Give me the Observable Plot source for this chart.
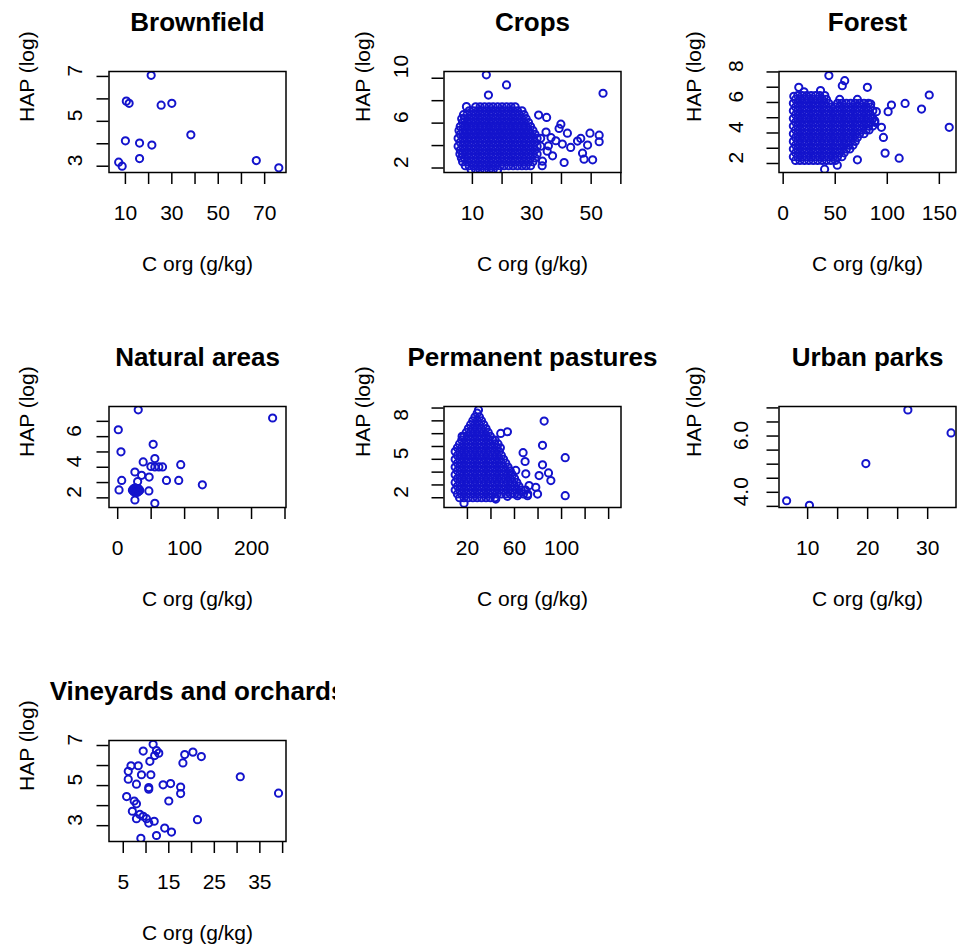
<!DOCTYPE html>
<html>
<head>
<meta charset="utf-8">
<script src="https://cdn.jsdelivr.net/npm/d3@7"></script>
<script src="https://cdn.jsdelivr.net/npm/@observablehq/plot@0.6"></script>
<style>
html, body { margin: 0; padding: 0; background: #fff; }
#chart { position: relative; width: 957px; height: 945px; overflow: hidden; background: #fff; }
#chart > div { position: absolute; }
</style>
</head>
<body>
<div id="chart"></div>
<script>
// ---------- text ----------
const titles = ["Brownfield", "Crops", "Forest", "Natural areas", "Permanent pastures", "Urban parks", "Vineyards and orchards"];
const xTitle = "C org (g/kg)";
const yTitle = "HAP (log)";

// ---------- data: [C org (g/kg), HAP (log)] ----------
const brownfield = [[21.1,7.05],[10.4,5.9],[11.6,5.8],[25.4,5.72],[30.0,5.8],[38.2,4.4],[10.0,4.13],[16.1,4.03],[21.4,3.94],[16.1,3.34],[7.1,3.18],[8.6,3.0],[66.4,3.25],[76.1,2.93]];

const cropsOut = [[14.7,10.3],[21.5,9.4],[54.0,8.66],[15.4,8.5],[8.0,7.47],[32.3,6.72],[35.0,6.51],[39.8,5.91],[39.2,5.53],[42.0,5.1],[49.6,5.1],[52.7,4.93],[46.5,4.64],[52.7,4.34],[40.3,4.13],[43.1,3.83],[48.8,4.04],[47.1,3.32],[50.5,2.73],[47.6,2.79],[40.9,2.49],[33.6,2.61],[37.0,3.09],[35.6,3.98],[38.1,4.43],[45.4,4.40],[34.8,5.2],[36.5,4.7],[35.2,3.5],[33.5,2.2]];
// dense core, one row per HAP level: [HAP, [C org values]]
const cropsCore = [
  [7.45, [11.1,12.6,14.1,15.6,17.0,18.5,20.0,21.5,23.0,24.4]],
  [7.1, [8.9,10.4,11.9,13.3,14.8,16.3,17.8,19.3,20.7,22.2,23.7,25.2,26.7]],
  [6.75, [7.0,8.2,9.6,11.1,12.6,14.1,15.6,17.0,18.5,20.0,21.5,23.0,24.4,25.9,27.4]],
  [6.4, [6.4,7.4,8.9,10.4,11.9,13.3,14.8,16.3,17.8,19.3,20.7,22.2,23.7,25.2,26.7,28.1]],
  [6.05, [6.7,8.2,9.6,11.1,12.6,14.1,15.6,17.0,18.5,20.0,21.5,23.0,24.4,25.9,27.4,28.9]],
  [5.7, [5.9,7.4,8.9,10.4,11.9,13.3,14.8,16.3,17.8,19.3,20.7,22.2,23.7,25.2,26.7,28.1,29.6]],
  [5.35, [5.5,6.7,8.2,9.6,11.1,12.6,14.1,15.6,17.0,18.5,20.0,21.5,23.0,24.4,25.9,27.4,28.9,30.4]],
  [5.0, [5.9,7.4,8.9,10.4,11.9,13.3,14.8,16.3,17.8,19.3,20.7,22.2,23.7,25.2,26.7,28.1,29.6,31.1]],
  [4.65, [5.2,6.7,8.2,9.6,11.1,12.6,14.1,15.6,17.0,18.5,20.0,21.5,23.0,24.4,25.9,27.4,28.9,30.4,31.8,33.0]],
  [4.3, [5.9,7.4,8.9,10.4,11.9,13.3,14.8,16.3,17.8,19.3,20.7,22.2,23.7,25.2,26.7,28.1,29.6,31.1]],
  [3.95, [5.2,6.7,8.2,9.6,11.1,12.6,14.1,15.6,17.0,18.5,20.0,21.5,23.0,24.4,25.9,27.4,28.9,30.4,31.8,33.0]],
  [3.6, [5.9,7.4,8.9,10.4,11.9,13.3,14.8,16.3,17.8,19.3,20.7,22.2,23.7,25.2,26.7,28.1,29.6,31.1]],
  [3.25, [5.8,6.7,8.2,9.6,11.1,12.6,14.1,15.6,17.0,18.5,20.0,21.5,23.0,24.4,25.9,27.4,28.9,30.4,31.8]],
  [2.9, [6.3,7.4,8.9,10.4,11.9,13.3,14.8,16.3,17.8,19.3,20.7,22.2,23.7,25.2,26.7,28.1,29.6,31.1]],
  [2.55, [6.7,8.2,9.6,11.1,12.6,14.1,15.6,17.0,18.5,20.0,21.5,23.0,24.4,25.9,27.4,28.9,30.4]],
  [2.2, [7.6,8.9,10.4,11.9,13.3,14.8,16.3,17.8,19.3,20.7,22.2,23.7,25.2,26.7,28.1,29.6]],
  [1.85, [9.6,11.1,12.6,14.1,15.6,17.0,18.5]]
];

const forestOut = [[43.9,7.76],[59.1,7.43],[56.8,7.1],[80.9,6.99],[140.3,6.49],[117.1,5.94],[104.0,5.83],[100.8,5.40],[132.9,5.57],[159.5,4.37],[94.4,4.37],[96.3,3.71],[97.9,2.68],[111.4,2.35],[71.3,2.24],[52.0,1.89],[39.8,1.63],[10.2,6.4],[15.0,6.99],[35.9,6.78],[84.1,5.9],[88.0,4.8],[20.0,6.7],[40.0,6.45],[89.5,5.4]];
const forestCore = [
  [6.45, [14.0,18.3,22.5,26.8,31.0,35.2]],
  [6.2, [11.9,16.1,20.4,24.6,28.9,33.1,37.4,41.6,54.3,71.3]],
  [5.95, [9.8,14.0,18.3,22.5,26.8,31.0,35.2,39.5,43.7,52.2,56.4,60.7,64.9,69.2,73.4,77.6,81.9]],
  [5.7, [11.9,16.1,20.4,24.6,28.9,33.1,37.4,41.6,45.8,50.1,54.3,58.6,62.8,67.0,71.3,75.5,79.8,84.0]],
  [5.45, [9.8,14.0,18.3,22.5,26.8,31.0,35.2,39.5,43.7,48.0,52.2,56.4,60.7,64.9,69.2,73.4,77.6,81.9,86.1]],
  [5.2, [11.9,16.1,20.4,24.6,28.9,33.1,37.4,41.6,45.8,50.1,54.3,58.6,62.8,67.0,71.3,75.5,79.8,84.0]],
  [4.95, [9.8,14.0,18.3,22.5,26.8,31.0,35.2,39.5,43.7,48.0,52.2,56.4,60.7,64.9,69.2,73.4,77.6,81.9,86.1]],
  [4.7, [11.9,16.1,20.4,24.6,28.9,33.1,37.4,41.6,45.8,50.1,54.3,58.6,62.8,67.0,71.3,75.5,79.8,84.0,88.0]],
  [4.45, [9.8,14.0,18.3,22.5,26.8,31.0,35.2,39.5,43.7,48.0,52.2,56.4,60.7,64.9,69.2,73.4,77.6,81.9,86.1]],
  [4.2, [11.9,16.1,20.4,24.6,28.9,33.1,37.4,41.6,45.8,50.1,54.3,58.6,62.8,67.0,71.3,75.5,79.8,82.5]],
  [3.95, [9.8,14.0,18.3,22.5,26.8,31.0,35.2,39.5,43.7,48.0,52.2,56.4,60.7,64.9,69.2,73.4,77.6]],
  [3.7, [11.9,16.1,20.4,24.6,28.9,33.1,37.4,41.6,45.8,50.1,54.3,58.6,62.8,67.0,71.3]],
  [3.45, [9.8,14.0,18.3,22.5,26.8,31.0,35.2,39.5,43.7,48.0,52.2,56.4,60.7,64.9,69.2]],
  [3.2, [11.9,16.1,20.4,24.6,28.9,33.1,37.4,41.6,45.8,50.1,54.3,58.6,62.8,67.0]],
  [2.95, [9.8,14.0,18.3,22.5,26.8,31.0,35.2,39.5,43.7,48.0,52.2,56.4,60.7,64.0]],
  [2.7, [11.9,16.1,20.4,24.6,28.9,33.1,37.4,41.6,45.8,50.1,54.3,58.6]],
  [2.45, [9.8,14.0,18.3,22.5,26.8,31.0,35.2,39.5,43.7,48.0,52.2,56.4]],
  [2.2, [11.9,16.1,20.4,24.6,28.9,33.1,37.4,41.6,45.8,50.1]]
];

const natural = [[30.7,7.75],[231.5,7.22],[0.9,6.45],[4.9,5.01],[53.0,5.5],[55.5,4.57],[38.1,4.35],[94.2,4.17],[49.6,4.05],[55.5,4.02],[61.5,4.02],[67.0,4.02],[25.7,3.69],[35.7,3.47],[47.0,3.36],[6.0,3.14],[72.9,3.14],[91.2,3.14],[126.5,2.85],[29.8,3.07],[2.0,2.52],[46.6,2.45],[25.7,1.86],[55.5,1.64],
  [22,2.5],[24,2.4],[24,2.6],[26,2.5],[27,2.38],[27,2.62],[29,2.5],[30,2.4],[31,2.6],[33,2.5],[25,2.5],[28,2.55],[23,2.55],[32,2.45],[26,2.65],[29,2.35]];

const pasturesOut = [[85.2,7.98],[83.8,6.09],[103.1,5.13],[103.1,2.16],[67.3,5.52],[69.0,4.83],[83.8,4.57],[80.9,3.73],[88.9,3.94],[90.9,3.34],[78.1,2.82],[79.6,2.29],[71.1,2.16],[62.6,2.16],[54.0,2.11],[44.1,1.9],[54.0,7.15],[48.3,7.02],[69.6,3.87],[61.1,4.13],[72.4,2.95],[17.1,1.58],[29.4,8.85]];
const pasturesCore = [
  [8.6, [28.3]],
  [8.3, [26.4,30.2]],
  [8.0, [24.6,28.3,32.0]],
  [7.7, [22.7,26.4,30.2,33.9]],
  [7.4, [20.8,24.6,28.3,32.0,35.8]],
  [7.1, [19.0,22.7,26.4,30.2,33.9,37.7]],
  [6.8, [15.5,17.1,20.8,24.6,28.3,32.0,35.8,39.5]],
  [6.5, [15.2,19.0,22.7,26.4,30.2,33.9,37.7,41.4,43.5]],
  [6.2, [13.3,17.1,20.8,24.6,28.3,32.0,35.8,39.5,43.3,46.0]],
  [5.9, [11.5,15.2,19.0,22.7,26.4,30.2,33.9,37.7,41.4,45.1,48.0]],
  [5.6, [9.6,13.3,17.1,20.8,24.6,28.3,32.0,35.8,39.5,43.3,47.0]],
  [5.3, [11.5,15.2,19.0,22.7,26.4,30.2,33.9,37.7,41.4,45.1,48.9]],
  [5.0, [9.6,13.3,17.1,20.8,24.6,28.3,32.0,35.8,39.5,43.3,47.0,50.7]],
  [4.7, [11.5,15.2,19.0,22.7,26.4,30.2,33.9,37.7,41.4,45.1,48.9,52.6]],
  [4.4, [9.6,13.3,17.1,20.8,24.6,28.3,32.0,35.8,39.5,43.3,47.0,50.7,54.5]],
  [4.1, [11.5,15.2,19.0,22.7,26.4,30.2,33.9,37.7,41.4,45.1,48.9,52.6,56.4]],
  [3.8, [9.6,13.3,17.1,20.8,24.6,28.3,32.0,35.8,39.5,43.3,47.0,50.7,54.5,58.2]],
  [3.5, [11.5,15.2,19.0,22.7,26.4,30.2,33.9,37.7,41.4,45.1,48.9,52.6,56.4,60.1]],
  [3.2, [9.6,13.3,17.1,20.8,24.6,28.3,32.0,35.8,39.5,43.3,47.0,50.7,54.5,58.2,62.0]],
  [2.9, [11.5,15.2,19.0,22.7,26.4,30.2,33.9,37.7,41.4,45.1,48.9,52.6,56.4,60.1,63.8]],
  [2.6, [9.6,13.3,17.1,20.8,24.6,28.3,32.0,35.8,39.5,43.3,47.0,50.7,54.5,58.2,62.0,65.7,69.4]],
  [2.3, [11.5,15.2,19.0,22.7,26.4,30.2,33.9,37.7,41.4,45.1,48.9,52.6,56.4,60.1,63.8,67.6,71.3]],
  [2.0, [13.3,17.1,20.8,24.6,28.3,32.0,35.8,39.5,43.3]]
];

const urban = [[6.5,4.2],[10.3,4.04],[19.7,5.52],[26.7,7.43],[33.9,6.61]];

const vineyards = [[11.56,7.06],[9.38,6.72],[12.3,6.75],[12.8,6.62],[11.9,6.5],[10.84,6.21],[18.5,6.55],[20.3,6.67],[22.15,6.45],[18.1,6.13],[6.7,5.99],[8.3,5.99],[6.1,5.71],[9.0,5.54],[11.06,5.54],[6.1,5.32],[7.9,5.07],[10.6,4.9],[10.6,4.82],[13.75,5.04],[15.4,5.1],[17.6,4.93],[17.6,4.6],[15.0,4.23],[30.7,5.44],[39.1,4.62],[5.74,4.45],[7.4,4.23],[7.9,4.09],[7.0,3.72],[8.65,3.56],[9.38,3.47],[7.9,3.35],[10.1,3.35],[10.6,3.13],[11.8,3.22],[21.3,3.3],[14.1,2.88],[15.6,2.68],[12.3,2.51],[8.87,2.37]];

// ---------- axis ticks / labels ----------
const ticks = {
  brownfield: {x: [10,20,30,40,50,60,70], xl: [10,30,50,70], y: [3,4,5,6,7], yl: [3,5,7]},
  crops:      {x: [10,20,30,40,50,60], xl: [10,30,50], y: [2,4,6,8,10], yl: [2,6,10]},
  forest:     {x: [0,50,100,150], xl: [0,50,100,150], y: [2,3,4,5,6,7,8], yl: [2,4,6,8]},
  natural:    {x: [0,50,100,150,200,250], xl: [0,100,200], y: [2,3,4,5,6,7], yl: [2,4,6]},
  pastures:   {x: [20,40,60,80,100,120,140], xl: [20,60,100], y: [2,3,4,5,6,7,8,9], yl: [2,5,8]},
  urban:      {x: [10,15,20,25,30], xl: [10,20,30], y: [4,4.5,5,5.5,6,6.5,7,7.5], yl: [4,6]},
  vineyards:  {x: [5,10,15,20,25,30,35,40], xl: [5,15,25,35], y: [3,4,5,6,7], yl: [3,5,7]}
};

// ---------- build tables ----------
const expand = rows => rows.flatMap(([y, xs]) => xs.map(x => [x, y]));
const crops = [...expand(cropsCore), ...cropsOut];
const forest = [...expand(forestCore), ...forestOut];
const pastures = [...expand(pasturesCore), ...pasturesOut];

const FONT = '"Liberation Sans", Arial, Helvetica, sans-serif';
const BLUE = "#1414cc";
const colLeft = [0, 335, 670];
const rowTop = [0, 335, 669];
const fmtInt = d => String(d);
const fmt1 = d => d.toFixed(1);

const panels = [
  {title: titles[0], data: brownfield, t: ticks.brownfield, xd: [2.93, 79.2], yd: [2.72, 7.22], col: 0, row: 0, yGap: 27.5, yt: 75, yf: fmtInt},
  {title: titles[1], data: crops, t: ticks.crops, xd: [0.44, 60.05], yd: [1.6, 10.6], col: 1, row: 0, yGap: 36, yt: 74, yf: fmtInt},
  {title: titles[2], data: forest, t: ticks.forest, xd: [-4, 166], yd: [1.41, 8.03], col: 2, row: 0, yGap: 36, yt: 78, yf: fmtInt},
  {title: titles[3], data: natural, t: ticks.natural, xd: [-13, 251.5], yd: [1.37, 7.97], col: 0, row: 1, yGap: 28, yt: 75.5, yf: fmtInt},
  {title: titles[4], data: pastures, t: ticks.pastures, xd: [0.1, 150.5], yd: [1.24, 9.12], col: 1, row: 1, yGap: 36.5, yt: 74, yf: fmtInt},
  {title: titles[5], data: urban, t: ticks.urban, xd: [5.23, 34.72], yd: [3.96, 7.55], col: 2, row: 1, yGap: 31, yt: 78, yf: fmt1},
  {title: titles[6], data: vineyards, t: ticks.vineyards, xd: [1.87, 40.74], yd: [2.21, 7.25], col: 0, row: 2, yGap: 27.5, yt: 75.5, yf: fmtInt}
];

const root = document.getElementById("chart");
const W = 335, H = 335, ML = 108.5, MT = 71, FW = 177, FH = 101;

for (const p of panels) {
  const svg = Plot.plot({
    width: W, height: H,
    marginLeft: ML, marginTop: MT, marginRight: W - ML - FW, marginBottom: H - MT - FH,
    x: {domain: p.xd},
    y: {domain: p.yd},
    style: {fontFamily: FONT, background: "transparent", maxWidth: "none", overflow: "hidden", color: "#000"},
    marks: [
      Plot.dot(p.data, {x: d => d[0], y: d => d[1], r: 3.6, stroke: BLUE, strokeWidth: 2, fill: "none", clip: true}),
      Plot.frame({stroke: "#000", strokeWidth: 1.5}),
      Plot.axisX({ticks: p.t.x, tickSize: 12, tickPadding: 21, strokeWidth: 1.5,
        tickFormat: d => p.t.xl.includes(d) ? String(d) : "", fontSize: 21, label: null}),
      Plot.axisY({ticks: p.t.y, tickSize: 12, strokeWidth: 1.5, tickFormat: () => "", label: null}),
      Plot.text(p.t.yl, {y: d => d, text: p.yf, frameAnchor: "left", dx: -p.yGap, rotate: -90,
        lineAnchor: "bottom", fontSize: 21}),
      Plot.text([yTitle], {text: d => d, frameAnchor: "left", dx: -p.yt, rotate: -90, lineAnchor: "bottom", fontSize: 21}),
      Plot.text([xTitle], {text: d => d, frameAnchor: "bottom", dy: 98, lineAnchor: "bottom", fontSize: 21}),
      Plot.text([p.title], {text: d => d, frameAnchor: "top", dy: -41, lineAnchor: "bottom", fontSize: 26, fontWeight: "bold"})
    ]
  });
  const holder = document.createElement("div");
  holder.style.left = colLeft[p.col] + "px";
  holder.style.top = rowTop[p.row] + "px";
  holder.style.width = W + "px";
  holder.style.height = H + "px";
  holder.style.overflow = "hidden";
  holder.appendChild(svg);
  root.appendChild(holder);
}
</script>
</body>
</html>
